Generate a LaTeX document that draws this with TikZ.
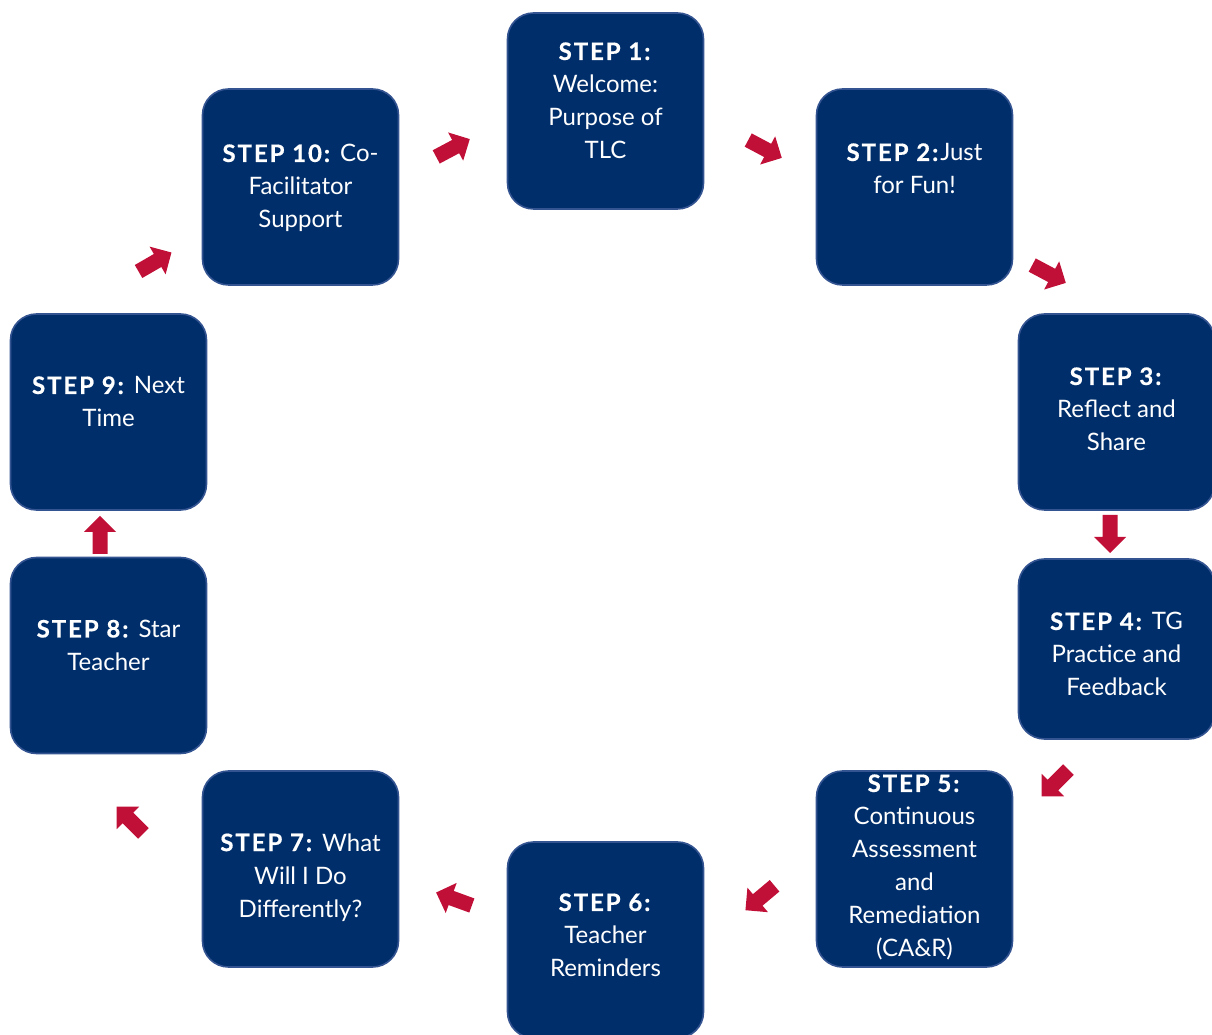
\documentclass[tikz,border=0pt]{standalone}
\usepackage{fontspec}
\setmainfont{Lato}[BoldFeatures={LetterSpace=8, FakeBold=0.6}]
\usetikzlibrary{positioning}
\definecolor{stepnavy}{RGB}{0,46,106}
\definecolor{stepedge}{RGB}{52,84,145}
\definecolor{arrowred}{RGB}{193,16,55}
\tikzset{
  stepbox/.style    = {rectangle, rounded corners=26pt, draw=stepedge, line width=1.6pt,
                       fill=stepnavy, minimum width=196pt, minimum height=196pt, inner sep=0pt},
  steptext/.style   = {text=white, align=center, inner sep=0pt,
                       font=\fontsize{24}{33}\selectfont},
  blockarrow/.pic   = {\fill[arrowred] (-19,-7.5) -- (3,-7.5) -- (3,-16) -- (19,0)
                       -- (3,16) -- (3,7.5) -- (-19,7.5) -- cycle;},
}
\begin{document}
\begin{tikzpicture}[x=1pt, y=1pt]
  \useasboundingbox (0,0) rectangle (1212,1034);
  % ---- the ten steps, clockwise from the top
  \node[stepbox] (s1) at (605.5,923) {};
  \node[stepbox] (s2) at (914.5,847) {};
  \node[stepbox] (s3) at (1116.5,622) {};
  \node[stepbox, minimum height=180pt] (s4) at (1116.5,385) {};
  \node[stepbox] (s5) at (914.5,165) {};
  \node[stepbox] (s6) at (605.5,94) {};
  \node[stepbox] (s7) at (300.5,165) {};
  \node[stepbox] (s8) at (108.5,378.5) {};
  \node[stepbox] (s9) at (108.5,622) {};
  \node[stepbox] (s10) at (300.5,847) {};
  % ---- texts
  \node[steptext, below=30pt of s1.north] (t1) {\textbf{STEP 1:}\\Welcome:\\Purpose of\\TLC};
  \node[steptext, below=55pt of s2.north] (t2) {\textbf{STEP 2:}Just\\for Fun!};
  \node[steptext, below=54pt of s3.north] (t3) {\textbf{STEP 3:}\\Reflect and\\Share};
  \node[steptext, below=54pt of s4.north] (t4) {\textbf{STEP 4:} TG\\Practice and\\Feedback};
  \node[steptext, below=4pt of s5.north] (t5) {\textbf{STEP 5:}\\Continuous\\Assessment\\and\\Remediation\\(CA\&R)};
  \node[steptext, below=52pt of s6.north] (t6) {\textbf{STEP 6:}\\Teacher\\Reminders};
  \node[steptext, below=63pt of s7.north] (t7) {\textbf{STEP 7:} What\\Will I Do\\Differently?};
  \node[steptext, below=63pt of s8.north] (t8) {\textbf{STEP 8:} Star\\Teacher};
  \node[steptext, below=63pt of s9.north] (t9) {\textbf{STEP 9:} Next\\Time};
  \node[steptext, below=56pt of s10.north] (t10) {\textbf{STEP 10:} Co-\\Facilitator\\Support};
  % ---- arrows between the steps
  \pic[rotate=28]   (a1)  at (453,886)  {blockarrow};
  \pic[rotate=-28]  (a2)  at (765,885)  {blockarrow};
  \pic[rotate=-28]  (a3)  at (1049,760) {blockarrow};
  \pic[rotate=-90]  (a4)  at (1110,500) {blockarrow};
  \pic[rotate=-135] (a5)  at (1055,251) {blockarrow};
  \pic[rotate=-140] (a6)  at (760,136)  {blockarrow};
  \pic[rotate=160]  (a7)  at (454,135)  {blockarrow};
  \pic[rotate=135]  (a8)  at (130,214)  {blockarrow};
  \pic[rotate=90]   (a9)  at (100,499)  {blockarrow};
  \pic[rotate=30]   (a10) at (155,772)  {blockarrow};
\end{tikzpicture}
\end{document}
